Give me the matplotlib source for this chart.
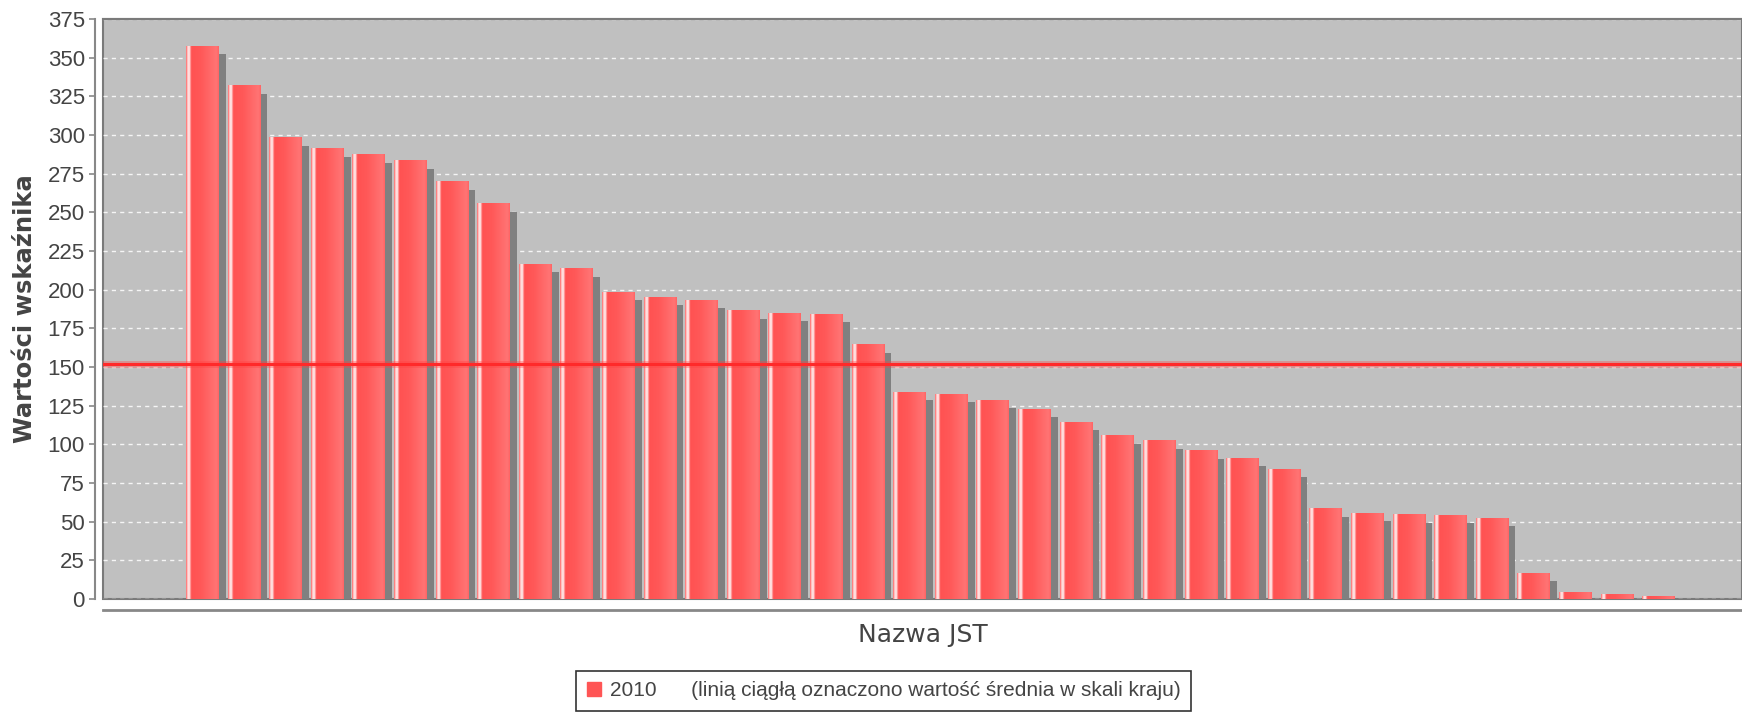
"""Wartości wskaźnika - bar chart in JFreeChart style"""
import numpy as np
import matplotlib
matplotlib.use('Agg')
import matplotlib.pyplot as plt
from matplotlib.patches import Patch
from matplotlib.colors import to_rgb

# values, sorted descending
values = [357.5, 331.8, 298.4, 291.2, 287.3, 283.3, 269.8, 255.5,
          216.5, 213.5, 198.4, 195.2, 193.1, 186.4, 184.7, 184.2,
          164.4, 133.8, 132.5, 128.4, 122.6, 114.4, 105.6, 102.4,
          95.9, 91.1, 84.0, 58.4, 55.6, 54.5, 54.3, 52.2,
          16.6, 4.1, 3.0, 1.5]
mean_value = 151.7
yticks = list(range(0, 376, 25))
series_label = "2010"
note = "(linią ciągłą oznaczono wartość średnia w skali kraju)"
ylabel = "Wartości wskaźnika"
xlabel = "Nazwa JST"

TXT = '#444444'
BAR = '#ff5555'

fig = plt.figure(figsize=(17.42, 7.13), dpi=100)
ax = fig.add_axes([103 / 1742, 1 - 599 / 713, 1 - 103 / 1742, 580 / 713])
ax.set_facecolor('#c0c0c0')

width = 0.786
# horizontal gradient across one bar: edge, white highlight, red, lighter red
stops = [(0.0, '#ff6a6a'), (0.05, '#ffd8d8'), (0.10, '#ffe8e8'),
         (0.16, '#ff5252'), (0.45, '#ff5858'), (0.93, '#ff7474'),
         (1.0, '#ff6464')]
pos = np.linspace(0, 1, 80)
cols = np.array([to_rgb(c) for _, c in stops])
sp = [s for s, _ in stops]
ramp = np.stack([np.interp(pos, sp, cols[:, k]) for k in range(3)], axis=1)
ramp = ramp[np.newaxis, :, :]

x = np.arange(len(values))
# shadows
ax.bar(x + 0.168, np.maximum(np.array(values) - 5.2, 0), width=width,
       align='edge', color='#808080', zorder=2)
for xi, v in zip(x, values):
    ax.imshow(ramp, extent=(xi, xi + width, 0, v), aspect='auto',
              interpolation='bilinear', zorder=3)

# national mean line
ax.axhline(mean_value, color='#ff4040', lw=5, alpha=0.35, zorder=4)
ax.axhline(mean_value, color='#ff2a2a', lw=2.2, zorder=4)

ax.set_xlim(-1.995, 37.40)
ax.set_ylim(0, 375)
ax.set_yticks(yticks)
ax.set_xticks([])
ax.yaxis.grid(True, color='white', lw=1, ls=(0, (3, 3)), alpha=0.85)
ax.set_axisbelow(True)

ax.patch.set_edgecolor('#7a7a7a')
ax.patch.set_linewidth(1.5)
ax.spines['right'].set_visible(False)
ax.spines['top'].set_color('#7a7a7a')
ax.spines['top'].set_linewidth(1.5)
ax.spines['left'].set_position(('outward', 6))
ax.spines['left'].set_color('#888888')
ax.spines['left'].set_linewidth(1.5)
ax.spines['bottom'].set_position(('outward', 8))
ax.spines['bottom'].set_color('#888888')
ax.spines['bottom'].set_linewidth(2)

ax.tick_params(axis='y', colors='#888888', length=4, width=1.2, pad=3,
               labelcolor=TXT, labelsize=16)
for lab in ax.get_yticklabels():
    lab.set_family('Liberation Sans')

ax.set_ylabel(ylabel, fontsize=17.5, fontweight='bold', color=TXT,
              family='DejaVu Sans')
ax.yaxis.set_label_coords(-0.040, 0.5)
ax.set_xlabel(xlabel, fontsize=18, color=TXT, family='DejaVu Sans', va='center')
ax.xaxis.set_label_coords(0.5, -0.062)

handle = Patch(facecolor=BAR, edgecolor=BAR)
leg = fig.legend([handle], [series_label + "      " + note],
                 loc='upper center', bbox_to_anchor=(0.5072, 1 - 671 / 713),
                 borderaxespad=0, frameon=True, fancybox=False,
                 handlelength=0.7, handleheight=0.7, handletextpad=0.4,
                 borderpad=0.5,
                 prop={'family': 'Liberation Sans', 'size': 15})
leg.get_frame().set_edgecolor('black')
leg.get_frame().set_linewidth(1.2)
for t in leg.get_texts():
    t.set_color(TXT)

fig.savefig('out.png', dpi=100)
